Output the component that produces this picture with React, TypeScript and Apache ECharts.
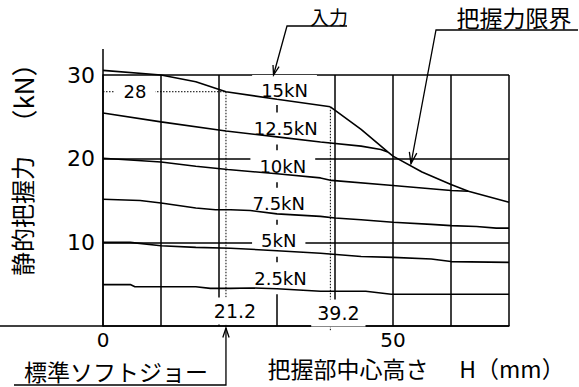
import React, { useEffect, useRef } from "react";
import * as echarts from "echarts";

// ---- axes ----
const xMin = 0;
const xMax = 70;
const xStep = 10;
const yMin = 0;
const yMax = 30;
const yStep = 10;
const xTickLabels = ["0", "50"];
const yTickLabels = ["10", "20", "30"];
const xAxisTitle = ["把握部中心高さ", "H（mm）"];
const yAxisTitle = ["静的把握力", "（kN）"];

// ---- curves: [H (mm), static grip force (kN)] ----
const input15 = [[0, 30.55], [10, 30.0], [16, 29.2], [21.2, 28.0], [30, 27.1], [39.2, 26.2]];
const gripLimit = [[39.2, 26.2], [44.5, 23.5], [49.1, 20.8], [50, 20.3], [55, 18.4], [60, 16.9], [63, 16.1], [70, 14.8]];
const input12_5 = [[0, 25.45], [10, 24.4], [21.2, 23.3], [30, 22.6], [37.5, 22.0], [44.5, 21.5], [47.9, 21.1], [49.1, 20.8]];
const input10 = [[0, 20.05], [10, 19.6], [16, 19.1], [21.5, 18.7], [30, 18.2], [37.5, 17.7], [39.4, 17.4], [50, 16.8], [55, 16.5], [60, 16.2], [63, 16.1]];
const input7_5 = [[0, 15.15], [6.4, 15.0], [10, 14.7], [16, 14.1], [19.4, 13.9], [22, 13.9], [25.4, 13.8], [30, 13.4], [37.5, 13.1], [40, 12.9], [44.5, 12.7], [50, 12.4], [56.6, 12.15], [60, 12.0], [64.4, 11.9], [67.8, 11.7], [70, 11.7]];
const input5 = [[0, 10.0], [4.7, 10.0], [10, 9.6], [16, 9.4], [22, 9.3], [30, 9.0], [37.5, 8.7], [44.5, 8.3], [50, 8.2], [56.6, 8.0], [60, 7.7], [70, 7.6]];
const input2_5 = [[0, 4.95], [4.7, 4.95], [5.5, 4.7], [16, 4.7], [18.5, 4.5], [22, 4.5], [25.4, 4.55], [30, 4.45], [37.5, 4.15], [45.3, 4.15], [49.7, 3.8], [70, 3.8]];

const curveLabels = ["15kN", "12.5kN", "10kN", "7.5kN", "5kN", "2.5kN"];
const curveLabelPos = [[31.3, 28.2], [31.5, 23.6], [31.0, 19.1], [30.3, 14.6], [30.3, 10.2], [30.6, 5.7]];

// ---- reference points ----
const standardH = 21.2;
const standardF = 28;
const limitStartH = 39.2;
const limitStartF = 26.2;
const refLabels = ["28", "21.2", "39.2"];
const inputArrowTip = [29.4, 30];
const limitArrowTip = [53.1, 19.4];

const annotInput = "入力";
const annotLimit = "把握力限界";
const annotJaw = "標準ソフトジョー";

const LAT = '"DejaVu Sans", sans-serif';
const CJK = '"Noto Sans CJK JP", sans-serif';

function curve(name: string, data: number[][]) {
  return {
    name,
    type: "line",
    data,
    symbol: "none",
    silent: true,
    clip: false,
    z: 3,
    lineStyle: { color: "#000", width: 1.6 },
  };
}

function arrowHead(tip: number[], from: number[], len = 10, ang = 0.32) {
  const a = Math.atan2(from[1] - tip[1], from[0] - tip[0]);
  return [
    [tip[0] + len * Math.cos(a + ang), tip[1] + len * Math.sin(a + ang)],
    [tip[0], tip[1]],
    [tip[0] + len * Math.cos(a - ang), tip[1] + len * Math.sin(a - ang)],
  ];
}

export default function App() {
  const ref = useRef<HTMLDivElement>(null);
  useEffect(() => {
    const chart = echarts.init(ref.current!, null, { renderer: "svg" });
    const axisLineStyle = { color: "#000", width: 1.5 };
    chart.setOption({
      animation: false,
      backgroundColor: "#fff",
      grid: { left: 103, right: 70, top: 75, bottom: 61 },
      xAxis: {
        type: "value",
        min: xMin,
        max: xMax,
        interval: xStep,
        axisLine: { show: true, onZero: false, lineStyle: axisLineStyle },
        axisTick: { show: false },
        splitLine: { show: true, lineStyle: axisLineStyle },
        axisLabel: {
          color: "#000",
          fontSize: 20,
          lineHeight: 18,
          fontFamily: LAT,
          margin: 5,
          formatter: (v: number) => (xTickLabels.includes(String(v)) ? String(v) : ""),
        },
      },
      yAxis: {
        type: "value",
        min: yMin,
        max: yMax,
        interval: yStep,
        axisLine: { show: true, onZero: false, lineStyle: axisLineStyle },
        axisTick: { show: false },
        splitLine: { show: true, lineStyle: axisLineStyle },
        axisLabel: {
          color: "#000",
          fontSize: 22,
          fontFamily: LAT,
          margin: 8,
          formatter: (v: number) => (yTickLabels.includes(String(v)) ? String(v) : ""),
        },
      },
      series: [
        curve("15kN", input15),
        curve("把握力限界", gripLimit),
        curve("12.5kN", input12_5),
        curve("10kN", input10),
        curve("7.5kN", input7_5),
        curve("5kN", input5),
        curve("2.5kN", input2_5),
        {
          name: "std",
          type: "line",
          data: [[xMin, standardF], [standardH, standardF], [standardH, -0.5]],
          symbol: "none",
          silent: true,
          clip: false,
          z: 1,
          lineStyle: { color: "#000", width: 1, type: [1.5, 1.5] },
        },
        {
          name: "lim",
          type: "line",
          data: [[limitStartH, limitStartF], [limitStartH, -0.5]],
          symbol: "none",
          silent: true,
          clip: false,
          z: 1,
          lineStyle: { color: "#000", width: 1, type: [1.5, 1.5] },
        },
      ],
    });

    const p = (x: number, y: number) => chart.convertToPixel({ gridIndex: 0 }, [x, y]) as number[];
    const origin = p(xMin, yMin);
    const topLeft = p(xMin, yMax);
    const els: any[] = [];

    // axis extensions
    els.push({ type: "line", z: 4, shape: { x1: 0, y1: origin[1], x2: origin[0], y2: origin[1] }, style: { stroke: "#000", lineWidth: 1.5 } });
    els.push({ type: "line", z: 4, shape: { x1: origin[0], y1: topLeft[1] - 26, x2: origin[0], y2: topLeft[1] }, style: { stroke: "#000", lineWidth: 1.5 } });

    // curve labels with white boxes
    curveLabels.forEach((t, i) => {
      const c = p(curveLabelPos[i][0], curveLabelPos[i][1]);
      els.push({
        type: "text",
        z: 2,
        x: c[0],
        y: c[1],
        style: {
          text: t,
          font: `18px ${LAT}`,
          fill: "#000",
          align: "center",
          verticalAlign: "middle",
          backgroundColor: "#fff",
          padding: i === 0 ? [4, 9, 8, 9] : [7, 9],
        },
      });
    });

    // 28 / 21.2 / 39.2 labels
    const p28 = p(xMin, standardF);
    els.push({ type: "text", z: 2, x: p28[0] + 32, y: p28[1], style: { text: refLabels[0], font: `18px ${LAT}`, fill: "#000", align: "center", verticalAlign: "middle", backgroundColor: "#fff", padding: [2, 9] } });
    const p21 = p(standardH, yMin);
    els.push({ type: "text", z: 2, x: p21[0] + 9, y: p21[1] - 15, style: { text: refLabels[1], font: `19px ${LAT}`, fill: "#000", align: "center", verticalAlign: "middle", backgroundColor: "#fff", padding: [4, 6] } });
    const p39 = p(limitStartH, yMin);
    els.push({ type: "text", z: 2, x: p39[0] + 8, y: p39[1] - 13, style: { text: refLabels[2], font: `19px ${LAT}`, fill: "#000", align: "center", verticalAlign: "middle", backgroundColor: "#fff", padding: [4, 6] } });

    // axis titles
    els.push({ type: "text", z: 4, x: 21, y: 216, rotation: Math.PI / 2, style: { text: yAxisTitle[0], font: `24px ${CJK}`, fill: "#000", align: "center", verticalAlign: "middle" } });
    els.push({ type: "text", z: 4, x: 22, y: 93, rotation: Math.PI / 2, style: { text: yAxisTitle[1], font: `26px ${CJK}`, fill: "#000", align: "center", verticalAlign: "middle" } });
    els.push({ type: "text", z: 4, x: 348, y: 368, style: { text: xAxisTitle[0], font: `23px ${CJK}`, fill: "#000", align: "center", verticalAlign: "middle" } });
    els.push({ type: "text", z: 4, x: 512, y: 368, style: { text: xAxisTitle[1], font: `23px ${CJK}`, fill: "#000", align: "center", verticalAlign: "middle" } });

    const ln = { stroke: "#000", lineWidth: 1.3, fill: "none" };
    // 入力
    const tipIn = p(inputArrowTip[0], inputArrowTip[1]);
    const inStart = [287, 26];
    els.push({ type: "text", z: 4, x: 329, y: 16, style: { text: annotInput, font: `19px ${CJK}`, fill: "#000", align: "center", verticalAlign: "middle" } });
    els.push({ type: "polyline", z: 4, shape: { points: [[347, 26], inStart, tipIn] }, style: ln });
    els.push({ type: "polyline", z: 4, shape: { points: arrowHead(tipIn, inStart) }, style: ln });

    // 把握力限界
    const tipLim = p(limitArrowTip[0], limitArrowTip[1]);
    const limStart = [436, 30];
    els.push({ type: "text", z: 4, x: 514, y: 17, style: { text: annotLimit, font: `23px ${CJK}`, fill: "#000", align: "center", verticalAlign: "middle" } });
    els.push({ type: "polyline", z: 4, shape: { points: [[578, 30], limStart, tipLim] }, style: ln });
    els.push({ type: "polyline", z: 4, shape: { points: arrowHead(tipLim, limStart, 12) }, style: ln });

    // 標準ソフトジョー
    const tipJaw = [p21[0], origin[1] + 2];
    const jawCorner = [p21[0], 385];
    els.push({ type: "text", z: 4, x: 116, y: 371, style: { text: annotJaw, font: `23px ${CJK}`, fill: "#000", align: "center", verticalAlign: "middle" } });
    els.push({ type: "polyline", z: 4, shape: { points: [[14, 385], jawCorner, tipJaw] }, style: ln });
    els.push({ type: "polyline", z: 4, shape: { points: arrowHead(tipJaw, jawCorner) }, style: ln });

    chart.setOption({ graphic: { elements: els } });
    return () => chart.dispose();
  }, []);
  return <div ref={ref} style={{ position: "absolute", left: 0, top: 0, width: 579, height: 387 }} />;
}
